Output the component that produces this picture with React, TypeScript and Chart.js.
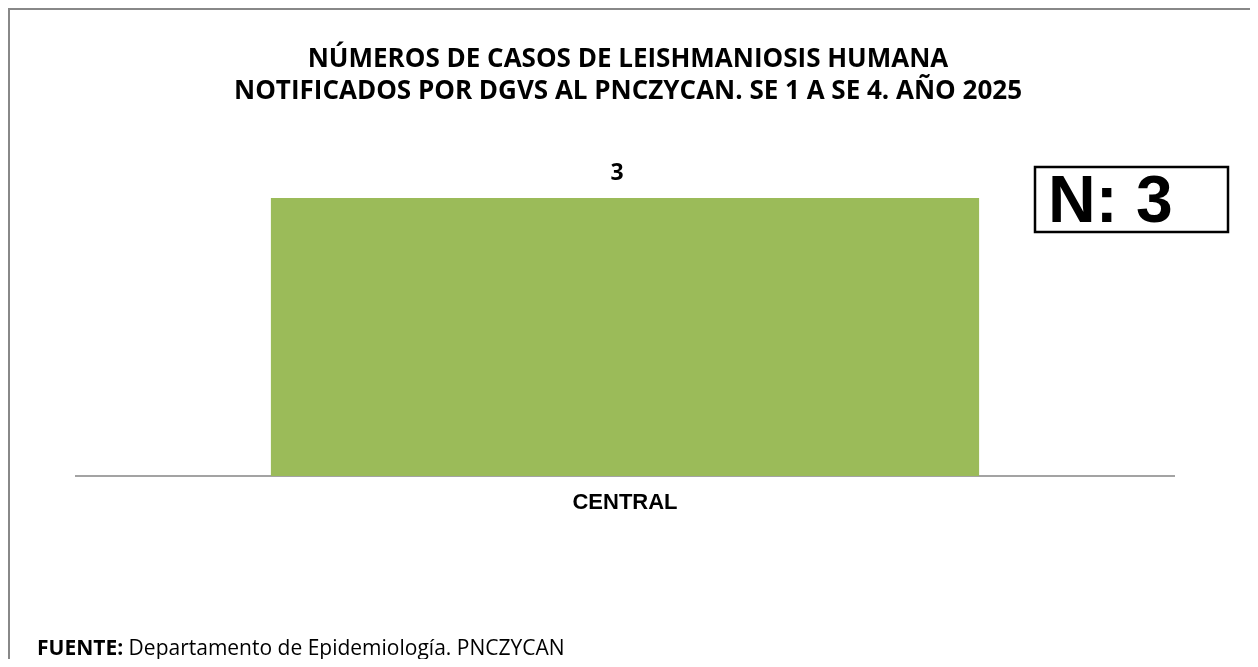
import React, { useEffect, useRef } from "react";
import { Chart, registerables } from "chart.js";

Chart.register(...registerables);

const titleLines = [
  "NÚMEROS DE CASOS DE LEISHMANIOSIS HUMANA",
  "NOTIFICADOS POR DGVS AL PNCZYCAN. SE 1 A SE 4. AÑO 2025",
];
const categories = ["CENTRAL"];
const casos = [3];
const totalLabel = "N: 3";
const sourceBold = "FUENTE:";
const sourceText = " Departamento de Epidemiología. PNCZYCAN";

const W = 1250;
const H = 659;

const decorPlugin = {
  id: "decor",
  afterDraw(chart: any) {
    const ctx = chart.ctx;
    ctx.save();
    // outer frame (top & left visible)
    ctx.fillStyle = "#888888";
    ctx.fillRect(0, 0, W, 2);
    ctx.fillRect(0, 0, 2, H);

    // title
    ctx.fillStyle = "#000";
    ctx.textAlign = "center";
    ctx.textBaseline = "middle";
    ctx.font = "bold 26px 'Open Sans'";
    ctx.fillText(titleLines[0], 620, 52);
    ctx.fillText(titleLines[1], 620, 84);

    // value labels
    const meta = chart.getDatasetMeta(0);
    meta.data.forEach((bar: any, i: number) => {
      ctx.font = "bold 23px 'Open Sans'";
      ctx.fillText(String(casos[i]), bar.x - 8, bar.y - 25);
    });

    // N box
    ctx.strokeStyle = "#000";
    ctx.lineWidth = 2.5;
    ctx.strokeRect(1027, 159, 193, 65);
    ctx.font = "bold 66px 'Liberation Sans'";
    ctx.textAlign = "left";
    ctx.textBaseline = "alphabetic";
    ctx.fillText(totalLabel, 1040, 214);

    // source
    ctx.font = "bold 21px 'Open Sans'";
    ctx.fillText(sourceBold, 29, 647);
    const bw = ctx.measureText(sourceBold).width;
    ctx.font = "21px 'Open Sans'";
    ctx.fillText(sourceText, 29 + bw, 647);
    ctx.restore();
  },
};

export default function App() {
  const ref = useRef<HTMLCanvasElement>(null);
  useEffect(() => {
    const chart = new Chart(ref.current!, {
      type: "bar",
      data: {
        labels: categories,
        datasets: [
          {
            data: casos,
            backgroundColor: "#9BBB59",
            barPercentage: 0.645,
            categoryPercentage: 1,
          },
        ],
      },
      options: {
        animation: false,
        responsive: false,
        maintainAspectRatio: false,
        layout: { padding: { top: 190, left: 68, right: 84, bottom: 151 } },
        plugins: {
          legend: { display: false },
          tooltip: { enabled: false },
          title: { display: false },
        },
        scales: {
          x: {
            grid: { display: false, drawTicks: false },
            border: { display: true, color: "#a3a3a3", width: 2 },
            afterFit(scale: any) {
              scale.height = 40;
            },
            ticks: {
              color: "#000",
              padding: 14,
              font: { family: "'Liberation Sans'", weight: "bold", size: 22 },
            },
          },
          y: { display: false, min: 0, max: 3 },
        },
      },
      plugins: [decorPlugin],
    });
    return () => chart.destroy();
  }, []);
  return (
    <div style={{ width: W, height: H, marginBottom: -8, overflow: "hidden", background: "#fff" }}>
      <canvas ref={ref} width={W} height={H} style={{ display: "block" }} />
    </div>
  );
}
